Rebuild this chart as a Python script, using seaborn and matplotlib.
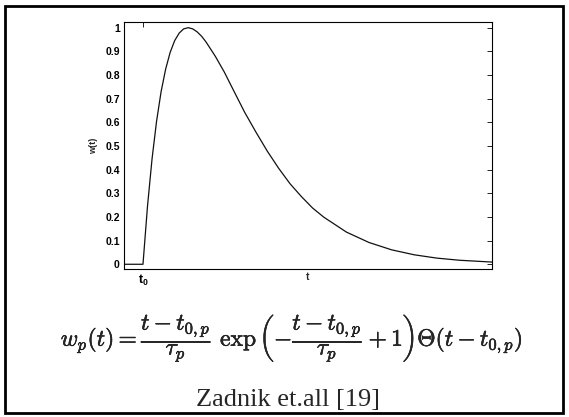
import matplotlib
matplotlib.use("Agg")
import matplotlib.pyplot as plt
import matplotlib.patheffects as pe
import seaborn as sns
import pandas as pd
from matplotlib.patches import Rectangle

t_vals = [-0.42, 0.0, 0.1, 0.2, 0.3, 0.4, 0.5, 0.6, 0.7, 0.8, 0.9, 1.0,
          1.1, 1.2, 1.3, 1.4, 1.6, 1.8, 2.0, 2.25, 2.5, 2.75, 3.0, 3.25, 3.5,
          3.75, 4.0, 4.5, 5.0, 5.5, 6.0, 6.5, 7.0, 7.72]
w_vals = [0.0, 0.0, 0.246, 0.445, 0.604, 0.729, 0.824, 0.895, 0.945, 0.977, 0.995, 1.0,
          0.995, 0.982, 0.963, 0.938, 0.879, 0.812, 0.736, 0.642, 0.558, 0.478, 0.406, 0.341, 0.287,
          0.238, 0.199, 0.136, 0.092, 0.061, 0.040, 0.026, 0.017, 0.0093]
y_ticks = [0, 0.1, 0.2, 0.3, 0.4, 0.5, 0.6, 0.7, 0.8, 0.9, 1]
y_ticklabels = ["0", "0.1", "0.2", "0.3", "0.4", "0.5", "0.6", "0.7", "0.8", "0.9", "1"]
x_ticks = [0.0]
x_ticklabels = [r"$\mathbf{t_0}$"]

df = pd.DataFrame({"t": t_vals, "w": w_vals})

sns.set_style("white")
plt.rcParams["font.family"] = ["Liberation Sans", "DejaVu Sans"]
plt.rcParams["mathtext.fontset"] = "custom"
plt.rcParams["mathtext.bf"] = "Liberation Sans:bold"

fig = plt.figure(figsize=(5.69, 4.17), dpi=100)
ax = fig.add_axes([124 / 569, 1 - 269 / 417, (492 - 124) / 569, (269 - 22) / 417])

sns.lineplot(data=df, x="t", y="w", ax=ax, color="#111111", linewidth=0.9, sort=False)

ax.set_xlim(-0.42, 7.72)
ax.set_ylim(-0.02, 1.024)
ax.set_yticks(y_ticks)
ax.set_yticklabels(y_ticklabels, fontsize=7.5, fontweight="bold")
ax.set_xticks(x_ticks)
ax.set_xticklabels(x_ticklabels, fontsize=9)
ax.tick_params(axis="both", direction="in", length=3.5, width=0.6, pad=3,
               top=True, right=True, colors="black")
ax.set_xlabel("t", fontsize=7.5, fontweight="bold")
ax.xaxis.set_label_coords(0.5, -0.012)
ax.set_ylabel("w(t)", fontsize=6.5, fontweight="bold", labelpad=5)
for s in ax.spines.values():
    s.set_color("black")
    s.set_linewidth(0.8)

# formula and caption
fig.text(292 / 569, 1 - 338 / 417,
         r"$w_p(t) = \dfrac{t - t_{0,p}}{\tau_p}\ \exp\left(-\dfrac{t - t_{0,p}}{\tau_p} + 1\right)\Theta(t - t_{0,p})$",
         ha="center", va="center", fontsize=17, math_fontfamily="cm",
         path_effects=[pe.withStroke(linewidth=0.35, foreground="black")])
fig.text(288 / 569, 1 - 400 / 417, "Zadnik et.all [19]", ha="center", va="center",
         fontsize=19, family="Liberation Serif")

# outer frame
fig.patches.append(Rectangle((4.5 / 569, 1 - 413 / 417), (563 - 4.5) / 569, (413 - 5.5) / 417,
                             transform=fig.transFigure, fill=False, edgecolor="black",
                             linewidth=2.0))

fig.savefig("out.png", dpi=100)
